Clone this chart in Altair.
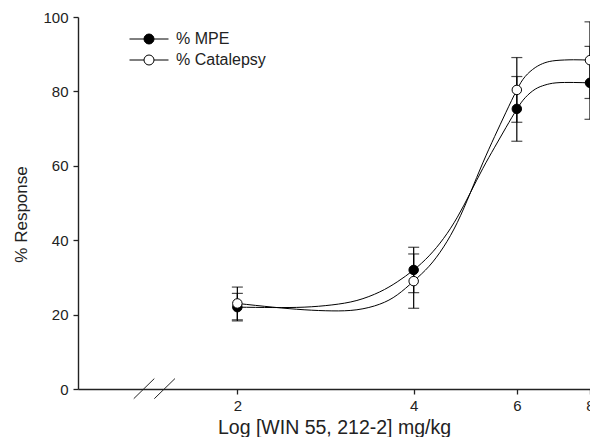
import altair as alt
import pandas as pd

# ---- data ----
series_names = ["% MPE", "% Catalepsy"]
dose = [2, 4, 6, 8]
mpe_mean = [22.0, 32.0, 75.3, 82.3]
mpe_err = [3.7, 6.1, 8.7, 9.8]
cat_mean = [23.0, 29.0, 80.4, 88.4]
cat_err = [4.4, 7.3, 8.7, 10.3]

curve_x = [2.0, 2.3, 2.6, 2.9, 3.2, 3.5, 3.75, 4.0, 4.25, 4.5, 4.75, 5.0,
           5.25, 5.5, 5.75, 6.0, 6.2, 6.45, 6.7, 7.0, 7.5, 8.0]
mpe_curve = [22.0, 21.9, 22.0, 22.6, 23.8, 26.1, 28.8, 32.0, 35.8, 40.5, 46.2, 52.8,
             59.3, 65.0, 70.3, 75.2, 78.3, 80.6, 81.7, 82.3, 82.4, 82.3]
cat_curve = [23.0, 22.0, 21.3, 21.0, 21.3, 22.8, 25.3, 29.0, 33.0, 38.2, 44.8, 52.8,
             60.8, 67.9, 74.4, 80.4, 84.0, 86.4, 87.7, 88.3, 88.5, 88.4]

x_ticks = [2, 4, 6, 8]
y_ticks = [0, 20, 40, 60, 80, 100]
x_domain = [1.069, 8]
y_domain = [0, 100]

# axis break marks (data coordinates)
break_x = [1.331, 1.443]
break_x2 = [1.443, 1.565]
break_y = [-2.6, -2.6]
break_y2 = [2.8, 2.8]

# ---- tables ----
pts = pd.DataFrame({
    "x": dose * 2,
    "y": mpe_mean + cat_mean,
    "lo": [m - e for m, e in zip(mpe_mean, mpe_err)] + [m - e for m, e in zip(cat_mean, cat_err)],
    "hi": [m + e for m, e in zip(mpe_mean, mpe_err)] + [m + e for m, e in zip(cat_mean, cat_err)],
    "series": [series_names[0]] * 4 + [series_names[1]] * 4,
    "order": [0] * 4 + [1] * 4,
})
caps = pd.DataFrame({
    "x": list(pts["x"]) * 2,
    "y": list(pts["lo"]) + list(pts["hi"]),
})
curves = pd.DataFrame({
    "x": curve_x * 2,
    "y": mpe_curve + cat_curve,
    "series": [series_names[0]] * len(curve_x) + [series_names[1]] * len(curve_x),
})
breaks = pd.DataFrame({"x": break_x, "x2": break_x2, "y": break_y, "y2": break_y2})

FONT = "Liberation Sans"
TXT = "#222222"

xscale = alt.Scale(type="log", domain=x_domain, nice=False)
yscale = alt.Scale(domain=y_domain, nice=False)
xaxis = alt.Axis(values=x_ticks, format="d", title="Log [WIN 55, 212-2] mg/kg",
                 labelFontSize=15, titleFontSize=19.5, labelPadding=4, titlePadding=5,
                 tickSize=5, grid=False, labelFlush=False)
yaxis = alt.Axis(values=y_ticks, format="d", title="% Response",
                 labelFontSize=15, titleFontSize=17, labelPadding=5, titlePadding=12,
                 titleY=197, tickSize=5, grid=False)

X = alt.X("x:Q", scale=xscale, axis=xaxis)
Y = alt.Y("y:Q", scale=yscale, axis=yaxis)

lines = alt.Chart(curves).mark_line(color="black", strokeWidth=1, interpolate="natural").encode(
    x=X, y=Y, detail="series:N")

bars = alt.Chart(pts).mark_rule(color="black", strokeWidth=1.2).encode(
    x=X, y=alt.Y("lo:Q", scale=yscale, axis=yaxis), y2="hi:Q")

capmarks = alt.Chart(caps).mark_tick(orient="horizontal", size=11, thickness=1.2, color="black").encode(
    x=X, y=Y)

legend_path = "M-3.9,0L-1,0M1,0L3.9,0M1,0A1,1,0,1,1,-1,0A1,1,0,1,1,1,0Z"
points = alt.Chart(pts).mark_point(shape="circle", size=90, filled=True, stroke="black",
                                   strokeWidth=1, opacity=1).encode(
    x=X, y=Y,
    fill=alt.Fill("series:N", scale=alt.Scale(domain=series_names, range=["black", "white"]),
                  legend=alt.Legend(title=None, orient="none", legendX=63, legendY=14,
                                    symbolType=legend_path, symbolSize=100,
                                    symbolStrokeColor="black", symbolStrokeWidth=1,
                                    labelFontSize=16, labelFont=FONT, labelColor=TXT,
                                    labelOffset=19, rowPadding=5, padding=0)),
    order="order:Q")

breakmarks = alt.Chart(breaks).mark_rule(color=TXT, strokeWidth=1).encode(
    x=X, x2="x2:Q", y=Y, y2="y2:Q")

chart = alt.layer(lines, bars, capmarks, points, breakmarks).properties(
    width=512, height=372,
    autosize=alt.AutoSizeParams(type="none"),
    padding={"left": 70, "top": 9, "right": 0, "bottom": 48},
).configure_view(stroke=None).configure_axis(
    labelFont=FONT, titleFont=FONT, labelColor=TXT, titleColor=TXT,
    domainColor=TXT, tickColor=TXT, domainWidth=1.4, tickWidth=1.3,
    titleFontWeight="normal",
)

chart.save("out.html", embed_options={"renderer": "svg", "actions": False})
